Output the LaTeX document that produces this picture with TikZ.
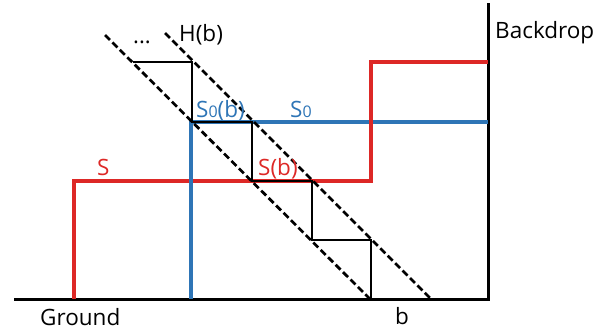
\documentclass[tikz,border=0pt]{standalone}
\usepackage{fontspec}
\setmainfont{Open Sans}
\usetikzlibrary{positioning}
\definecolor{stepred}{RGB}{221,40,38}
\definecolor{stepblue}{RGB}{46,117,182}
\newcommand{\zsub}{{\fontsize{16}{16}\selectfont 0}}

\begin{document}
\begin{tikzpicture}[
    x=1pt, y=-1pt,
    wall/.style={line width=3pt, black},
    redline/.style={line width=4.8pt, stepred},
    blueline/.style={line width=4.8pt, stepblue},
    guide/.style={line width=2.7pt, dash pattern=on 7pt off 3.5pt},
    stair/.style={line width=1.6pt},
    lbl/.style={inner sep=0pt, anchor=base west, font=\fontsize{22.5}{22.5}\selectfont}
]
\useasboundingbox (0,0) rectangle (606,333);

% ground and backdrop
\coordinate (gl) at (14,299);
\coordinate (gr) at (490,299);
\coordinate (bt) at (488,3);
\coordinate (bb) at (488,299);
\draw [wall] (gl) -- (gr);
\draw [wall] (bt) -- (bb);

% step S and step S0
\coordinate (s1) at (74,299);
\coordinate (s2) at (74,181);
\coordinate (s3) at (371,181);
\coordinate (s4) at (371,62);
\coordinate (s5) at (488,62);
\coordinate (z1) at (191,299);
\coordinate (z2) at (191,122);
\coordinate (z3) at (488,122);
\draw [redline] (s1) -- (s2) -- (s3) -- (s4) -- (s5);
\draw [blueline] (z1) -- (z2) -- (z3);
\draw [redline] (s3) -- (s4);

% the two diagonals
\coordinate (da) at (105,35);
\coordinate (db) at (370,299);
\coordinate (ha) at (165,33);
\coordinate (hb) at (431,299);
\draw [guide] (da) -- (db);
\draw [guide] (ha) -- (hb);

% staircase between them
\coordinate (t1) at (133,62);
\coordinate (t2) at (192,62);
\coordinate (t3) at (192,122);
\coordinate (t4) at (252,122);
\coordinate (t5) at (252,181);
\coordinate (t6) at (312,181);
\coordinate (t7) at (312,240);
\coordinate (t8) at (371,240);
\coordinate (t9) at (371,299);
\draw [stair] (t1) -- (t2) -- (t3) -- (t4) -- (t5) -- (t6) -- (t7) -- (t8) -- (t9);

% labels
\node [inner sep=0pt, font=\fontsize{22}{22}\selectfont] (dots) at (142,42) {...};
\node [lbl] (hlab) at (179,41) {H(b)};
\node [lbl, stepblue] (s0b) at (196,117) {S\zsub(b)};
\node [lbl, stepblue] (s0) at (290,117) {S\zsub};
\node [lbl, stepred] (slab) at (97,175) {S};
\node [lbl, stepred] (sb) at (258,175) {S(b)};
\node [lbl] (ground) at (40,325) {Ground};
\node [lbl] (blab) at (395,324) {b};
\node [lbl] (backdrop) at (495,38) {Backdrop};

\end{tikzpicture}
\end{document}
